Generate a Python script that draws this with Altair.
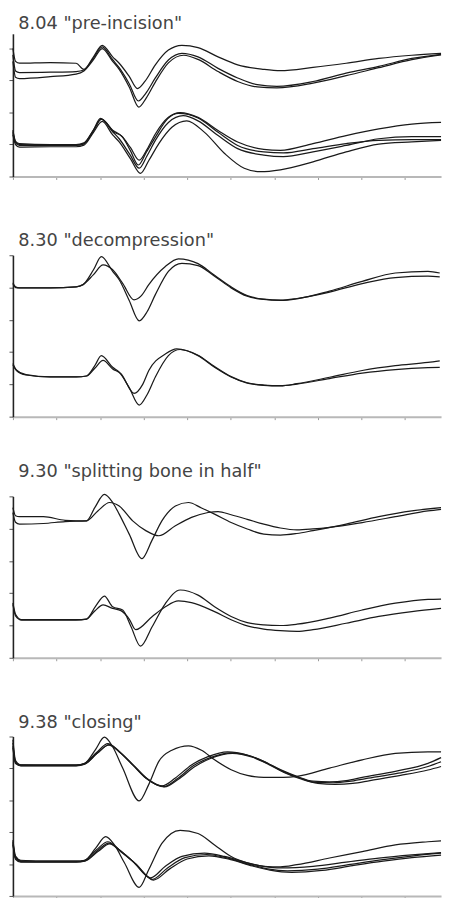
import altair as alt
import pandas as pd

# ---- titles -------------------------------------------------------------
TITLES = ['8.04 "pre-incision"', '8.30 "decompression"',
          '9.30 "splitting bone in half"', '9.38 "closing"']

# ---- x ticks (ms) ---------------------------------------------------------
X_TICKS = [0, 10, 20, 30, 40, 50, 60, 70, 80, 90]
X_MAX = 98.3

# ---- traces: (time, amplitude) pairs ---------------------------------------
# panel 1  "pre-incision"
P1_UP_A = [(0, 40.0), (0.6, 36.0), (1.5, 35.4), (8.6, 35.6), (14.5, 35.4), (16.3, 33.5), (18.5, 37.4),
           (20.5, 41.0), (22.9, 37.4), (24.4, 35.4), (26.7, 31.3), (28.6, 27.5), (30.3, 29.7), (32.7, 34.9),
           (35.7, 39.5), (38.8, 41.0), (42.5, 40.3), (47.1, 37.4), (51.6, 34.9), (57.6, 33.5), (61.4, 33.1),
           (68.9, 34.1), (76.5, 35.4), (84.0, 36.9), (91.6, 37.9), (98.3, 38.5)]
P1_UP_B = [(0, 38.0), (0.6, 33.0), (1.5, 32.5), (8.6, 32.6), (14.5, 32.8), (16.3, 33.3), (18.5, 37.0),
           (20.5, 40.5), (22.9, 36.5), (24.4, 34.0), (26.7, 29.0), (28.8, 23.6), (30.5, 26.0), (32.7, 30.8),
           (35.7, 36.4), (38.8, 38.5), (42.5, 37.4), (47.1, 33.8), (51.6, 30.8), (56.1, 28.7), (60.6, 28.2),
           (68.9, 29.7), (76.5, 32.3), (84.0, 34.4), (91.6, 36.9), (98.3, 38.2)]
P1_UP_C = [(0, 36.0), (0.6, 31.0), (1.5, 30.6), (8.6, 31.2), (14.5, 32.0), (16.3, 33.0), (18.5, 36.5),
           (20.5, 40.0), (22.9, 36.0), (24.4, 33.5), (26.7, 28.0), (28.9, 21.7), (30.6, 24.5), (32.7, 29.5),
           (35.7, 35.5), (39.2, 37.9), (42.5, 36.6), (47.1, 32.8), (51.6, 29.7), (56.1, 28.0), (60.6, 27.7),
           (68.9, 29.2), (76.5, 31.5), (84.0, 34.0), (91.6, 36.5), (98.3, 38.0)]
P1_LO_A = [(0, 14.5), (0.6, 11.0), (1.5, 10.3), (8.6, 10.0), (14.5, 10.0), (16.3, 10.5), (18.5, 14.5),
           (20.3, 17.9), (23.3, 13.8), (24.8, 12.8), (27.0, 9.0), (29.0, 5.1), (30.8, 8.5), (32.7, 13.3),
           (35.7, 18.5), (38.4, 20.0), (42.5, 18.5), (47.1, 14.4), (51.6, 10.8), (57.6, 8.5), (61.4, 8.2),
           (68.9, 10.3), (76.5, 12.8), (84.0, 14.9), (91.6, 16.4), (98.3, 16.9)]
P1_LO_B = [(0, 13.5), (0.6, 10.5), (1.5, 9.7), (8.6, 9.7), (14.5, 9.7), (16.3, 10.2), (18.5, 14.3),
           (20.3, 17.9), (22.9, 14.0), (24.4, 11.8), (26.8, 7.0), (29.0, 2.6), (30.8, 6.5), (32.7, 11.3),
           (35.7, 16.9), (39.1, 19.0), (42.5, 17.4), (47.1, 12.8), (51.6, 8.7), (57.6, 6.7), (62.1, 6.2),
           (68.9, 7.7), (76.5, 9.7), (84.0, 11.8), (91.6, 12.5), (98.3, 12.5)]
P1_LO_C = [(0, 13.0), (0.6, 10.0), (1.5, 9.2), (8.6, 9.3), (14.5, 9.3), (16.3, 9.8), (18.5, 13.8),
           (20.5, 17.2), (22.9, 13.0), (24.4, 10.8), (27.0, 5.5), (29.3, 1.0), (31.2, 5.0), (33.5, 10.3),
           (36.5, 15.4), (39.9, 17.4), (44.0, 13.8), (48.6, 7.2), (53.1, 2.6), (56.9, 1.5), (61.4, 2.1),
           (68.9, 4.6), (76.5, 7.7), (84.0, 10.1), (91.6, 10.8), (98.3, 11.3)]
P1_LO_D = [(0, 14.0), (0.6, 10.8), (1.5, 10.0), (8.6, 9.9), (14.5, 9.9), (16.3, 10.3), (18.5, 14.6),
           (20.1, 18.2), (22.9, 14.5), (25.2, 12.3), (27.0, 8.0), (28.8, 3.6), (30.6, 7.5), (32.7, 12.3),
           (35.5, 18.0), (38.0, 19.7), (42.5, 18.3), (47.1, 13.8), (51.6, 9.7), (57.6, 7.7), (62.1, 7.4),
           (68.9, 8.7), (76.5, 10.3), (84.0, 11.3), (91.6, 11.5), (98.3, 11.5)]

# panel 2  "decompression"
P2_UP_A = [(0, 41.5), (0.6, 40.2), (1.5, 39.9), (8.6, 39.9), (14.5, 40.2), (16.1, 40.9), (18.5, 45.5),
           (20.3, 49.6), (22.9, 45.0), (24.4, 42.4), (26.7, 36.0), (29.0, 29.7), (30.8, 32.5), (32.7, 37.8),
           (35.7, 45.0), (38.8, 47.5), (42.5, 46.8), (46.3, 43.5), (50.1, 39.9), (53.8, 37.3), (57.6, 36.3),
           (61.4, 36.0), (65.2, 36.5), (72.7, 38.9), (80.2, 41.9), (87.8, 44.5), (95.3, 45.0), (98.0, 44.5)]
P2_UP_B = [(0, 41.0), (0.6, 40.0), (1.5, 39.9), (8.6, 39.9), (14.5, 40.2), (16.1, 40.9), (18.5, 44.0),
           (20.7, 47.0), (22.9, 45.5), (25.2, 41.3), (27.8, 36.2), (29.5, 37.5), (31.2, 40.9), (35.0, 46.5),
           (38.0, 48.9), (42.5, 47.4), (46.3, 43.8), (50.1, 40.2), (53.8, 37.5), (57.6, 36.4), (61.4, 36.1),
           (65.2, 36.6), (72.7, 38.6), (80.2, 41.2), (87.8, 43.1), (95.3, 43.5), (98.0, 43.3)]
P2_LO_A = [(0, 16.5), (0.8, 14.5), (3.0, 13.0), (8.6, 12.3), (14.5, 12.3), (16.9, 12.6), (18.8, 15.8),
           (20.3, 18.9), (22.9, 15.3), (24.4, 13.8), (26.7, 9.0), (29.0, 3.6), (30.8, 6.8), (32.7, 12.3),
           (35.7, 18.9), (38.4, 20.8), (42.5, 18.9), (46.3, 15.3), (50.1, 12.3), (53.8, 10.4), (57.6, 9.7),
           (61.4, 9.5), (65.2, 10.2), (72.7, 12.2), (80.2, 14.3), (87.8, 15.8), (95.3, 16.8), (98.0, 17.3)]
P2_LO_B = [(0, 16.0), (0.8, 14.3), (3.0, 12.9), (8.6, 12.3), (14.5, 12.3), (16.9, 12.6), (18.8, 15.0),
           (20.7, 17.4), (22.9, 14.8), (24.8, 13.3), (27.8, 7.2), (29.8, 10.0), (31.2, 14.3), (35.0, 19.4),
           (37.6, 21.0), (42.5, 19.0), (46.3, 15.5), (50.1, 12.4), (53.8, 10.5), (57.6, 9.8), (61.4, 9.6),
           (65.2, 10.1), (72.7, 11.8), (80.2, 13.5), (87.8, 14.6), (95.3, 15.2), (98.0, 15.3)]

# panel 3  "splitting bone in half"
P3_UP_A = [(0, 46.5), (0.6, 44.0), (1.5, 43.7), (7.0, 43.7), (12.0, 42.6), (16.9, 42.4), (18.8, 46.5),
           (21.0, 50.6), (22.9, 48.1), (24.4, 44.5), (26.7, 38.3), (29.6, 30.7), (31.9, 36.3), (34.2, 42.4),
           (37.3, 47.0), (40.3, 48.1), (43.3, 46.4), (46.3, 44.5), (50.1, 41.9), (53.8, 39.9), (57.6, 38.3),
           (61.4, 38.0), (65.2, 38.5), (68.9, 39.4), (76.5, 41.4), (84.0, 43.7), (91.6, 45.5), (98.3, 46.5)]
P3_UP_B = [(0, 45.0), (0.6, 42.0), (1.5, 41.4), (7.0, 41.6), (12.0, 42.2), (16.9, 42.4), (19.5, 45.5),
           (22.2, 48.1), (24.4, 47.0), (27.5, 42.4), (30.5, 39.4), (33.5, 37.8), (37.3, 40.9), (41.0, 43.5),
           (44.8, 45.0), (47.1, 45.3), (50.1, 44.3), (53.8, 42.9), (57.6, 41.4), (61.4, 40.2), (65.2, 39.6),
           (68.9, 39.9), (72.7, 40.4), (80.2, 41.9), (87.8, 43.7), (95.3, 45.5), (98.3, 46.0)]
P3_LO_A = [(0, 17.0), (0.6, 13.5), (2.0, 11.8), (8.6, 11.8), (14.5, 11.8), (16.9, 12.0), (19.0, 16.0),
           (21.0, 19.1), (22.9, 15.8), (25.2, 14.8), (27.1, 9.7), (29.3, 3.6), (32.0, 9.7), (35.0, 16.8),
           (38.4, 21.0), (42.5, 19.4), (46.3, 15.8), (50.1, 12.8), (53.8, 10.9), (57.6, 10.2), (61.4, 10.0),
           (65.2, 10.4), (72.7, 12.3), (80.2, 14.8), (87.8, 16.9), (95.3, 18.1), (98.3, 18.2)]
P3_LO_B = [(0, 16.5), (0.6, 13.0), (2.0, 11.7), (8.6, 11.7), (14.5, 11.7), (16.9, 12.0), (18.8, 14.5),
           (20.7, 16.4), (22.9, 15.3), (24.8, 14.6), (26.7, 12.0), (28.2, 8.7), (32.0, 12.8), (35.0, 15.8),
           (38.0, 17.6), (41.0, 17.1), (46.3, 14.3), (50.1, 11.8), (53.8, 9.9), (57.6, 8.9), (61.4, 8.4),
           (65.2, 8.2), (68.9, 8.7), (76.5, 10.7), (84.0, 12.8), (91.6, 14.3), (98.3, 15.3)]

# panel 4  "closing"
P4_UP_F = [(0, 49.0), (0.6, 42.5), (1.8, 41.1), (8.6, 41.1), (14.5, 41.1), (16.5, 41.6), (19.0, 46.0),
           (21.0, 49.8), (22.9, 46.8), (25.2, 40.1), (29.0, 29.8), (31.2, 35.0), (33.5, 42.2), (36.5, 45.7),
           (40.3, 47.1), (43.3, 45.7), (46.3, 42.7), (50.1, 39.6), (53.8, 37.8), (57.6, 37.2), (62.1, 37.2),
           (65.2, 37.5), (72.7, 40.1), (80.2, 42.7), (87.8, 44.7), (95.3, 45.2), (98.3, 45.2)]
P4_UP_S1 = [(0, 48.0), (0.6, 42.0), (1.8, 41.1), (8.6, 41.0), (14.5, 41.0), (16.5, 41.6), (19.2, 45.0),
            (21.8, 47.8), (24.4, 45.2), (27.5, 41.1), (30.5, 37.0), (34.2, 34.5), (37.3, 37.0), (41.0, 41.1),
            (44.8, 43.7), (49.3, 45.2), (53.8, 44.2), (57.6, 42.2), (61.4, 39.6), (65.2, 37.5), (68.9, 36.0),
            (72.7, 35.8), (76.5, 36.2), (80.2, 37.2), (87.8, 39.1), (95.3, 41.6), (98.3, 43.4)]
P4_UP_S2 = [(0, 47.0), (0.6, 41.8), (1.8, 40.9), (8.6, 40.9), (14.5, 40.9), (16.5, 41.4), (19.2, 44.6),
            (22.0, 47.3), (24.6, 45.0), (27.8, 40.8), (30.8, 36.8), (34.6, 34.3), (37.8, 36.8), (41.5, 40.9),
            (45.3, 43.4), (50.0, 44.9), (54.5, 43.9), (58.3, 41.7), (62.1, 39.0), (65.9, 37.0), (69.6, 35.6),
            (73.5, 35.5), (77.2, 35.9), (81.0, 36.8), (88.5, 38.5), (95.3, 40.6), (98.3, 42.1)]
P4_UP_S3 = [(0, 46.5), (0.6, 41.5), (1.8, 40.8), (8.6, 40.8), (14.5, 40.8), (16.5, 41.3), (19.4, 44.8),
            (22.2, 47.5), (24.8, 44.8), (28.0, 40.5), (31.0, 36.5), (34.8, 34.2), (38.0, 36.6), (41.8, 40.6),
            (45.5, 43.2), (50.4, 44.7), (55.0, 43.5), (58.8, 41.2), (62.5, 38.6), (66.3, 36.6), (70.0, 35.3),
            (74.0, 35.0), (78.0, 35.3), (82.0, 36.2), (89.0, 37.8), (95.3, 39.5), (98.3, 40.6)]
P4_LO_F = [(0, 17.5), (0.6, 12.5), (1.8, 11.2), (8.6, 10.9), (14.5, 10.9), (16.5, 11.2), (19.0, 15.0),
           (21.3, 18.6), (23.3, 16.0), (25.6, 10.4), (29.0, 2.7), (31.2, 8.3), (34.2, 16.5), (38.4, 20.6),
           (42.5, 19.6), (46.3, 16.0), (50.1, 12.4), (53.8, 10.4), (57.6, 9.3), (61.4, 9.1), (65.2, 9.8),
           (72.7, 11.9), (80.2, 13.9), (87.8, 16.0), (95.3, 17.0), (98.3, 17.3)]
P4_LO_S1 = [(0, 17.0), (0.6, 12.0), (1.8, 11.0), (8.6, 10.9), (14.5, 10.9), (16.5, 11.2), (19.2, 14.5),
            (21.8, 17.0), (24.4, 14.5), (27.5, 10.9), (31.6, 5.7), (35.0, 9.3), (38.8, 12.4), (44.0, 13.4),
            (48.6, 12.4), (53.8, 10.4), (57.6, 9.3), (61.4, 8.8), (68.9, 9.3), (76.5, 10.6), (84.0, 11.9),
            (91.6, 12.9), (98.3, 13.6)]
P4_LO_S2 = [(0, 16.5), (0.6, 11.8), (1.8, 10.8), (8.6, 10.7), (14.5, 10.7), (16.5, 11.0), (19.4, 14.2),
            (22.0, 16.6), (24.8, 14.0), (28.0, 10.3), (32.0, 5.2), (35.5, 8.8), (39.5, 12.0), (44.5, 13.0),
            (49.5, 11.8), (54.5, 9.8), (58.5, 8.5), (63.0, 7.9), (70.0, 8.4), (77.5, 9.9), (84.5, 11.3),
            (91.6, 12.5), (98.3, 13.4)]
P4_LO_S3 = [(0, 16.0), (0.6, 11.5), (1.8, 10.6), (8.6, 10.6), (14.5, 10.6), (16.5, 10.9), (19.6, 14.0),
            (22.2, 16.3), (25.0, 13.6), (28.2, 10.0), (32.3, 5.0), (36.0, 8.5), (40.0, 11.6), (45.0, 12.6),
            (50.0, 11.4), (55.0, 9.4), (59.0, 8.1), (64.0, 7.4), (71.0, 8.0), (78.0, 9.5), (85.0, 10.9),
            (91.6, 12.0), (98.3, 12.8)]

PANELS = [
    {"up": [P1_UP_A, P1_UP_B, P1_UP_C], "lo": [P1_LO_A, P1_LO_B, P1_LO_C, P1_LO_D]},
    {"up": [P2_UP_A, P2_UP_B], "lo": [P2_LO_A, P2_LO_B]},
    {"up": [P3_UP_A, P3_UP_B], "lo": [P3_LO_A, P3_LO_B]},
    {"up": [P4_UP_F, P4_UP_S1, P4_UP_S2, P4_UP_S3], "lo": [P4_LO_F, P4_LO_S1, P4_LO_S2, P4_LO_S3]},
]
Y_TOPS = [44.6, 50, 50, 50]
Y_TICKS = [[0, 10, 20, 30, 40], [0, 10, 20, 30, 40, 50], [0, 10, 20, 30, 40, 50], [0, 10, 20, 30, 40, 50]]
HEIGHTS = [145, 164, 164, 162]
TITLE_OFFSETS = [1, 4, 11, 3]

rows = []
for p, groups in enumerate(PANELS):
    for ch, traces in groups.items():
        for i, tr in enumerate(traces):
            for x, v in tr:
                rows.append({"panel": p, "trace": f"{ch}{i}", "t": x, "v": v})
df = pd.DataFrame(rows)

charts = []
for p in range(4):
    c = alt.Chart(df[df.panel == p]).mark_line(
        interpolate="monotone", color="#1a1a1a", strokeWidth=1.25
    ).encode(
        x=alt.X("t:Q", scale=alt.Scale(domain=[0, X_MAX], nice=False, zero=False),
                axis=alt.Axis(values=X_TICKS, labels=False, title=None, grid=False,
                              domainColor="#b8b8b8", domainWidth=2, tickColor="#999999",
                              tickSize=3, tickWidth=1)),
        y=alt.Y("v:Q", scale=alt.Scale(domain=[0, Y_TOPS[p]], nice=False, zero=False),
                axis=alt.Axis(values=Y_TICKS[p], labels=False, title=None, grid=False,
                              domainColor="#222222", domainWidth=1.6, tickColor="#555555",
                              tickSize=4, tickWidth=1)),
        detail="trace:N",
    ).properties(
        width=435, height=HEIGHTS[p],
        title=alt.TitleParams(TITLES[p], anchor="start", font="DejaVu Sans", fontSize=18,
                              fontWeight="normal", color="#444444", dx=10,
                              offset=TITLE_OFFSETS[p]),
    )
    charts.append(c)

top_pair = alt.vconcat(charts[0], charts[1], spacing=52)
top_three = alt.vconcat(top_pair, charts[2], spacing=43)
chart = alt.vconcat(top_three, charts[3], spacing=53).properties(
    padding={"left": 0, "top": 0, "right": 0, "bottom": 0}
).configure_view(stroke=None)

chart.save("out.html", embed_options={"renderer": "svg", "actions": False})
